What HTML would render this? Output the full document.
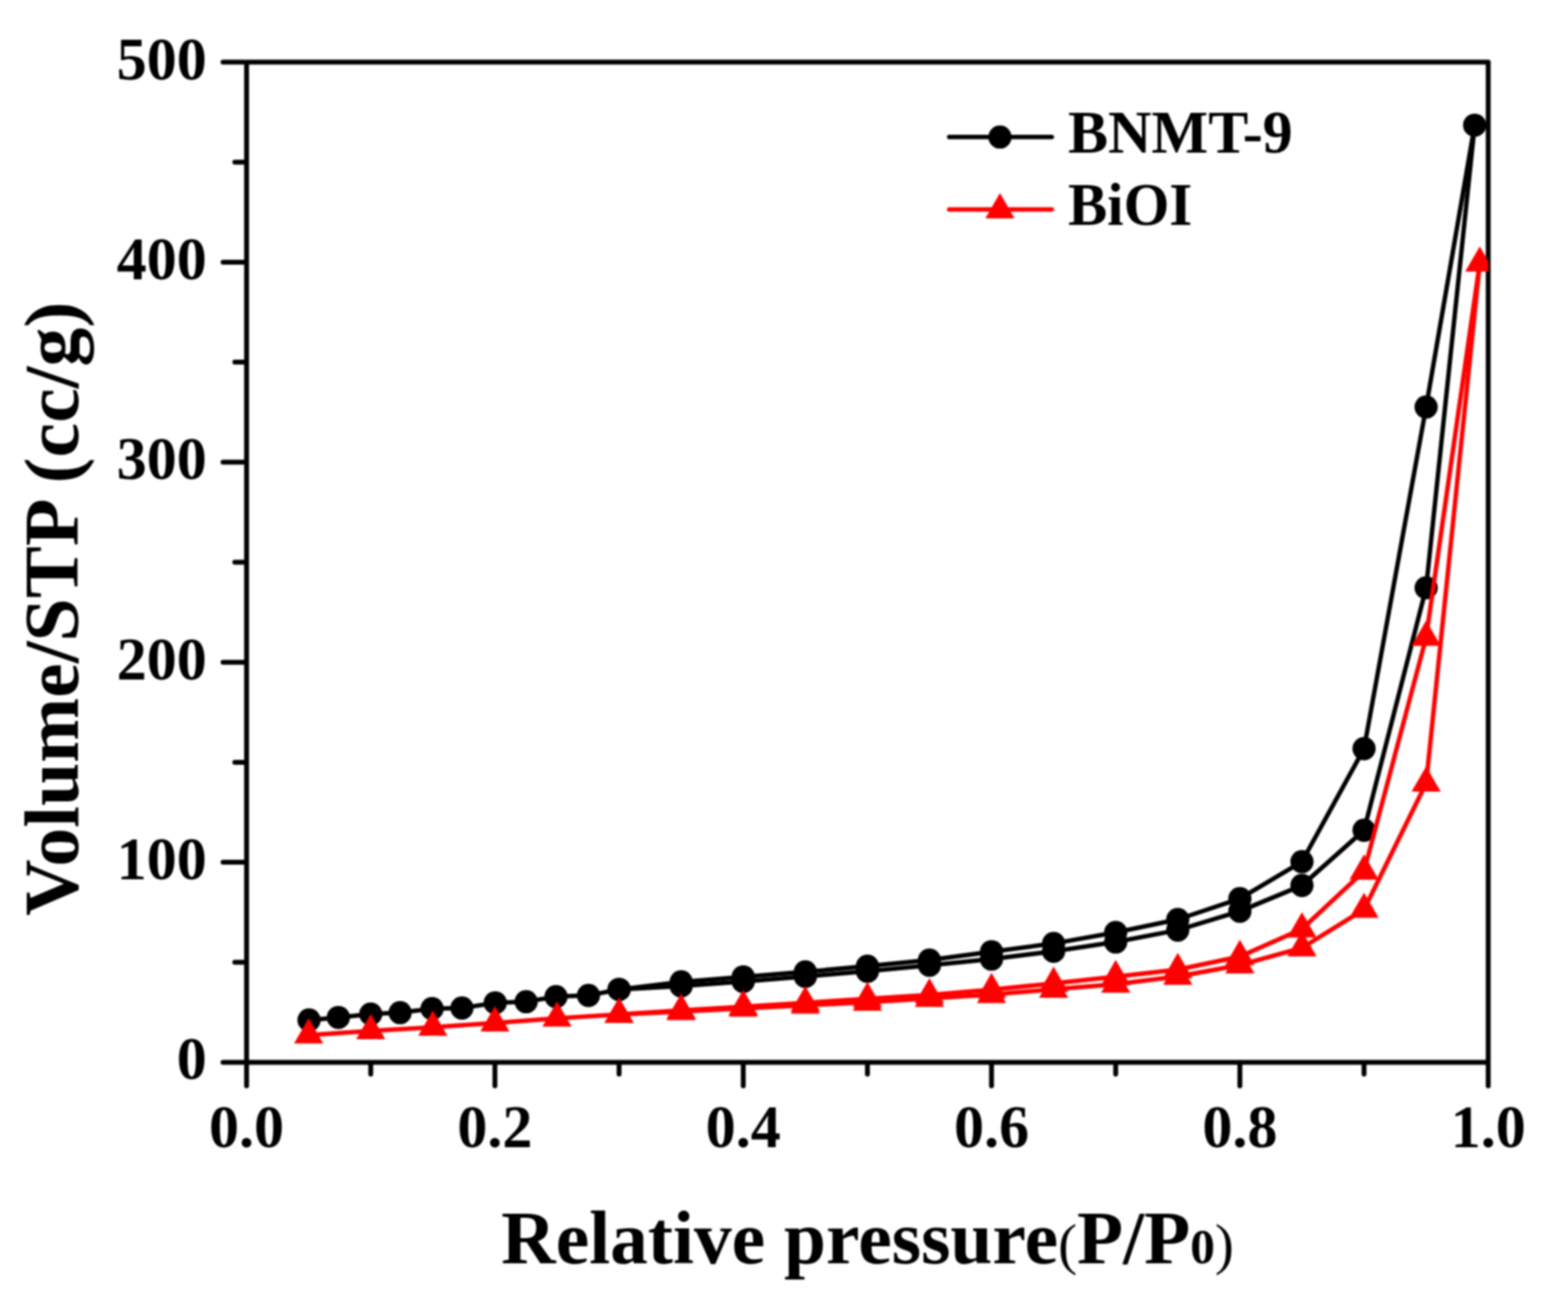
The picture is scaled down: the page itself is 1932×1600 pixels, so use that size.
<!DOCTYPE html>
<html><head><meta charset="utf-8"><title>BNMT-9 BiOI isotherm</title>
<style>
html,body{margin:0;padding:0;background:#fff;width:1932px;height:1600px;overflow:hidden}
svg{display:block;filter:blur(0.9px)}
text{font-family:"Liberation Serif","Times New Roman",serif;font-weight:bold;fill:#000}
.r{font-weight:normal}
</style></head><body>
<svg width="1932" height="1600" viewBox="0 0 1932 1600">
<rect width="1932" height="1600" fill="#fff"/>
<defs><clipPath id="pa"><rect x="303.8" y="76.6" width="1529.9" height="1231.8"/></clipPath></defs>

<g stroke="#000" stroke-width="6.0" stroke-linecap="round" fill="none">
<rect x="303.8" y="76.6" width="1529.9" height="1231.8" stroke-linejoin="round"/>
<line x1="274.8" y1="1308.4" x2="300.8" y2="1308.4"/>
<line x1="289.3" y1="1185.2" x2="300.8" y2="1185.2"/>
<line x1="274.8" y1="1062.0" x2="300.8" y2="1062.0"/>
<line x1="289.3" y1="938.9" x2="300.8" y2="938.9"/>
<line x1="274.8" y1="815.7" x2="300.8" y2="815.7"/>
<line x1="289.3" y1="692.5" x2="300.8" y2="692.5"/>
<line x1="274.8" y1="569.3" x2="300.8" y2="569.3"/>
<line x1="289.3" y1="446.1" x2="300.8" y2="446.1"/>
<line x1="274.8" y1="323.0" x2="300.8" y2="323.0"/>
<line x1="289.3" y1="199.8" x2="300.8" y2="199.8"/>
<line x1="274.8" y1="76.6" x2="300.8" y2="76.6"/>
<line x1="303.8" y1="1311.4" x2="303.8" y2="1337.4"/>
<line x1="456.8" y1="1311.4" x2="456.8" y2="1322.9"/>
<line x1="609.8" y1="1311.4" x2="609.8" y2="1337.4"/>
<line x1="762.8" y1="1311.4" x2="762.8" y2="1322.9"/>
<line x1="915.8" y1="1311.4" x2="915.8" y2="1337.4"/>
<line x1="1068.8" y1="1311.4" x2="1068.8" y2="1322.9"/>
<line x1="1221.7" y1="1311.4" x2="1221.7" y2="1337.4"/>
<line x1="1374.7" y1="1311.4" x2="1374.7" y2="1322.9"/>
<line x1="1527.7" y1="1311.4" x2="1527.7" y2="1337.4"/>
<line x1="1680.7" y1="1311.4" x2="1680.7" y2="1322.9"/>
<line x1="1833.7" y1="1311.4" x2="1833.7" y2="1337.4"/>
</g>
<g clip-path="url(#pa)">
<polyline fill="none" stroke-linejoin="round" stroke-linecap="round" stroke-width="5.5" stroke="#000" points="380.8,1256.4 416.9,1253.2 456.8,1249.0 493.0,1247.3 532.4,1242.4 569.2,1241.6 610.2,1235.2 648.3,1233.8 685.1,1227.6 725.1,1226.1 762.8,1218.7 839.3,1214.5 915.8,1208.9 992.3,1202.7 1068.8,1196.3 1145.2,1188.9 1221.7,1181.3 1298.2,1171.7 1374.7,1160.3 1451.2,1145.6 1527.7,1122.4 1604.2,1090.6 1680.7,1022.6 1757.2,724.0 1817.0,154.2"/>
<polyline fill="none" stroke-linejoin="round" stroke-linecap="round" stroke-width="5.5" stroke="#000" points="1817.0,154.2 1757.2,501.3 1680.7,922.1 1604.2,1061.3 1527.7,1106.9 1451.2,1132.5 1374.7,1148.5 1298.2,1162.1 1221.7,1172.2 1145.2,1182.5 1068.8,1190.1 992.3,1197.0 915.8,1203.2 839.3,1209.4 762.8,1218.7"/>
<g fill="#000">
<circle cx="380.8" cy="1256.4" r="14.3"/>
<circle cx="416.9" cy="1253.2" r="14.3"/>
<circle cx="456.8" cy="1249.0" r="14.3"/>
<circle cx="493.0" cy="1247.3" r="14.3"/>
<circle cx="532.4" cy="1242.4" r="14.3"/>
<circle cx="569.2" cy="1241.6" r="14.3"/>
<circle cx="610.2" cy="1235.2" r="14.3"/>
<circle cx="648.3" cy="1233.8" r="14.3"/>
<circle cx="685.1" cy="1227.6" r="14.3"/>
<circle cx="725.1" cy="1226.1" r="14.3"/>
<circle cx="762.8" cy="1218.7" r="14.3"/>
<circle cx="839.3" cy="1214.5" r="14.3"/>
<circle cx="915.8" cy="1208.9" r="14.3"/>
<circle cx="992.3" cy="1202.7" r="14.3"/>
<circle cx="1068.8" cy="1196.3" r="14.3"/>
<circle cx="1145.2" cy="1188.9" r="14.3"/>
<circle cx="1221.7" cy="1181.3" r="14.3"/>
<circle cx="1298.2" cy="1171.7" r="14.3"/>
<circle cx="1374.7" cy="1160.3" r="14.3"/>
<circle cx="1451.2" cy="1145.6" r="14.3"/>
<circle cx="1527.7" cy="1122.4" r="14.3"/>
<circle cx="1604.2" cy="1090.6" r="14.3"/>
<circle cx="1680.7" cy="1022.6" r="14.3"/>
<circle cx="1757.2" cy="724.0" r="14.3"/>
<circle cx="1817.0" cy="154.2" r="14.3"/>
<circle cx="1757.2" cy="501.3" r="14.3"/>
<circle cx="1680.7" cy="922.1" r="14.3"/>
<circle cx="1604.2" cy="1061.3" r="14.3"/>
<circle cx="1527.7" cy="1106.9" r="14.3"/>
<circle cx="1451.2" cy="1132.5" r="14.3"/>
<circle cx="1374.7" cy="1148.5" r="14.3"/>
<circle cx="1298.2" cy="1162.1" r="14.3"/>
<circle cx="1221.7" cy="1172.2" r="14.3"/>
<circle cx="1145.2" cy="1182.5" r="14.3"/>
<circle cx="1068.8" cy="1190.1" r="14.3"/>
<circle cx="992.3" cy="1197.0" r="14.3"/>
<circle cx="915.8" cy="1203.2" r="14.3"/>
<circle cx="839.3" cy="1209.4" r="14.3"/>
<circle cx="762.8" cy="1218.7" r="14.3"/>
</g>
<polyline fill="none" stroke-linejoin="round" stroke-linecap="round" stroke-width="5.5" stroke="#f00" points="380.3,1274.9 456.8,1269.7 533.3,1265.3 609.8,1260.1 686.3,1254.2 762.8,1249.5 839.3,1246.1 915.8,1241.9 992.3,1238.2 1068.8,1234.5 1145.2,1229.8 1221.7,1225.1 1298.2,1218.5 1374.7,1212.3 1451.2,1202.7 1527.7,1188.7 1604.2,1167.5 1680.7,1120.2 1757.2,964.7 1823.3,324.2"/>
<polyline fill="none" stroke-linejoin="round" stroke-linecap="round" stroke-width="5.5" stroke="#f00" points="1823.3,324.2 1757.2,785.1 1680.7,1073.1 1604.2,1144.3 1527.7,1178.3 1451.2,1194.3 1374.7,1203.0 1298.2,1211.3 1221.7,1219.0 1145.2,1225.6 1068.8,1230.3 992.3,1235.2 915.8,1239.9 839.3,1244.6 762.8,1249.5"/>
<g fill="#f00">
<polygon points="380.3,1254.1 362.3,1285.3 398.3,1285.3"/>
<polygon points="456.8,1248.9 438.8,1280.1 474.8,1280.1"/>
<polygon points="533.3,1244.5 515.3,1275.7 551.3,1275.7"/>
<polygon points="609.8,1239.3 591.8,1270.5 627.8,1270.5"/>
<polygon points="686.3,1233.4 668.3,1264.6 704.3,1264.6"/>
<polygon points="762.8,1228.7 744.8,1259.9 780.8,1259.9"/>
<polygon points="839.3,1225.3 821.3,1256.5 857.3,1256.5"/>
<polygon points="915.8,1221.1 897.8,1252.3 933.8,1252.3"/>
<polygon points="992.3,1217.4 974.3,1248.6 1010.3,1248.6"/>
<polygon points="1068.8,1213.7 1050.8,1244.9 1086.8,1244.9"/>
<polygon points="1145.2,1209.0 1127.2,1240.2 1163.2,1240.2"/>
<polygon points="1221.7,1204.3 1203.7,1235.5 1239.7,1235.5"/>
<polygon points="1298.2,1197.7 1280.2,1228.9 1316.2,1228.9"/>
<polygon points="1374.7,1191.5 1356.7,1222.7 1392.7,1222.7"/>
<polygon points="1451.2,1181.9 1433.2,1213.1 1469.2,1213.1"/>
<polygon points="1527.7,1167.9 1509.7,1199.1 1545.7,1199.1"/>
<polygon points="1604.2,1146.7 1586.2,1177.9 1622.2,1177.9"/>
<polygon points="1680.7,1099.4 1662.7,1130.6 1698.7,1130.6"/>
<polygon points="1757.2,943.9 1739.2,975.1 1775.2,975.1"/>
<polygon points="1823.3,303.4 1805.3,334.6 1841.3,334.6"/>
<polygon points="1757.2,764.3 1739.2,795.5 1775.2,795.5"/>
<polygon points="1680.7,1052.3 1662.7,1083.5 1698.7,1083.5"/>
<polygon points="1604.2,1123.5 1586.2,1154.7 1622.2,1154.7"/>
<polygon points="1527.7,1157.5 1509.7,1188.7 1545.7,1188.7"/>
<polygon points="1451.2,1173.6 1433.2,1204.7 1469.2,1204.7"/>
<polygon points="1374.7,1182.2 1356.7,1213.4 1392.7,1213.4"/>
<polygon points="1298.2,1190.5 1280.2,1221.7 1316.2,1221.7"/>
<polygon points="1221.7,1198.2 1203.7,1229.4 1239.7,1229.4"/>
<polygon points="1145.2,1204.8 1127.2,1236.0 1163.2,1236.0"/>
<polygon points="1068.8,1209.5 1050.8,1240.7 1086.8,1240.7"/>
<polygon points="992.3,1214.4 974.3,1245.6 1010.3,1245.6"/>
<polygon points="915.8,1219.1 897.8,1250.3 933.8,1250.3"/>
<polygon points="839.3,1223.8 821.3,1255.0 857.3,1255.0"/>
<polygon points="762.8,1228.7 744.8,1259.9 780.8,1259.9"/>
</g>
</g>
<text x="254.8" y="1329.4" font-size="74" text-anchor="end">0</text>
<text x="254.8" y="1083.0" font-size="74" text-anchor="end">100</text>
<text x="254.8" y="836.7" font-size="74" text-anchor="end">200</text>
<text x="254.8" y="590.3" font-size="74" text-anchor="end">300</text>
<text x="254.8" y="344.0" font-size="74" text-anchor="end">400</text>
<text x="254.8" y="97.6" font-size="74" text-anchor="end">500</text>
<text x="303.8" y="1413" font-size="74" text-anchor="middle">0.0</text>
<text x="609.8" y="1413" font-size="74" text-anchor="middle">0.2</text>
<text x="915.8" y="1413" font-size="74" text-anchor="middle">0.4</text>
<text x="1221.7" y="1413" font-size="74" text-anchor="middle">0.6</text>
<text x="1527.7" y="1413" font-size="74" text-anchor="middle">0.8</text>
<text x="1833.7" y="1413" font-size="74" text-anchor="middle">1.0</text>
<text x="617.5" y="1555.5" font-size="93">Relative pressure<tspan class="r" font-size="70">(</tspan>P/P<tspan font-size="61">0</tspan><tspan class="r" font-size="70">)</tspan></text>
<text transform="translate(96,1128) rotate(-90)" font-size="96">Volume/STP (cc/g)</text>
<g stroke-width="5.5" stroke-linecap="round">
<line x1="1169.5" y1="168.8" x2="1296" y2="168.8" stroke="#000"/>
<line x1="1169.5" y1="258.1" x2="1296" y2="258.1" stroke="#f00"/>
</g>
<circle cx="1232.1" cy="168.8" r="14.3" fill="#000"/>
<g fill="#f00"><polygon points="1232.1,237.7 1214.1,268.9 1250.1,268.9"/></g>
<text x="1316" y="188" font-size="74">BNMT-9</text>
<text x="1316" y="277" font-size="74" textLength="153" lengthAdjust="spacingAndGlyphs">BiOI</text>
</svg>
</body></html>
